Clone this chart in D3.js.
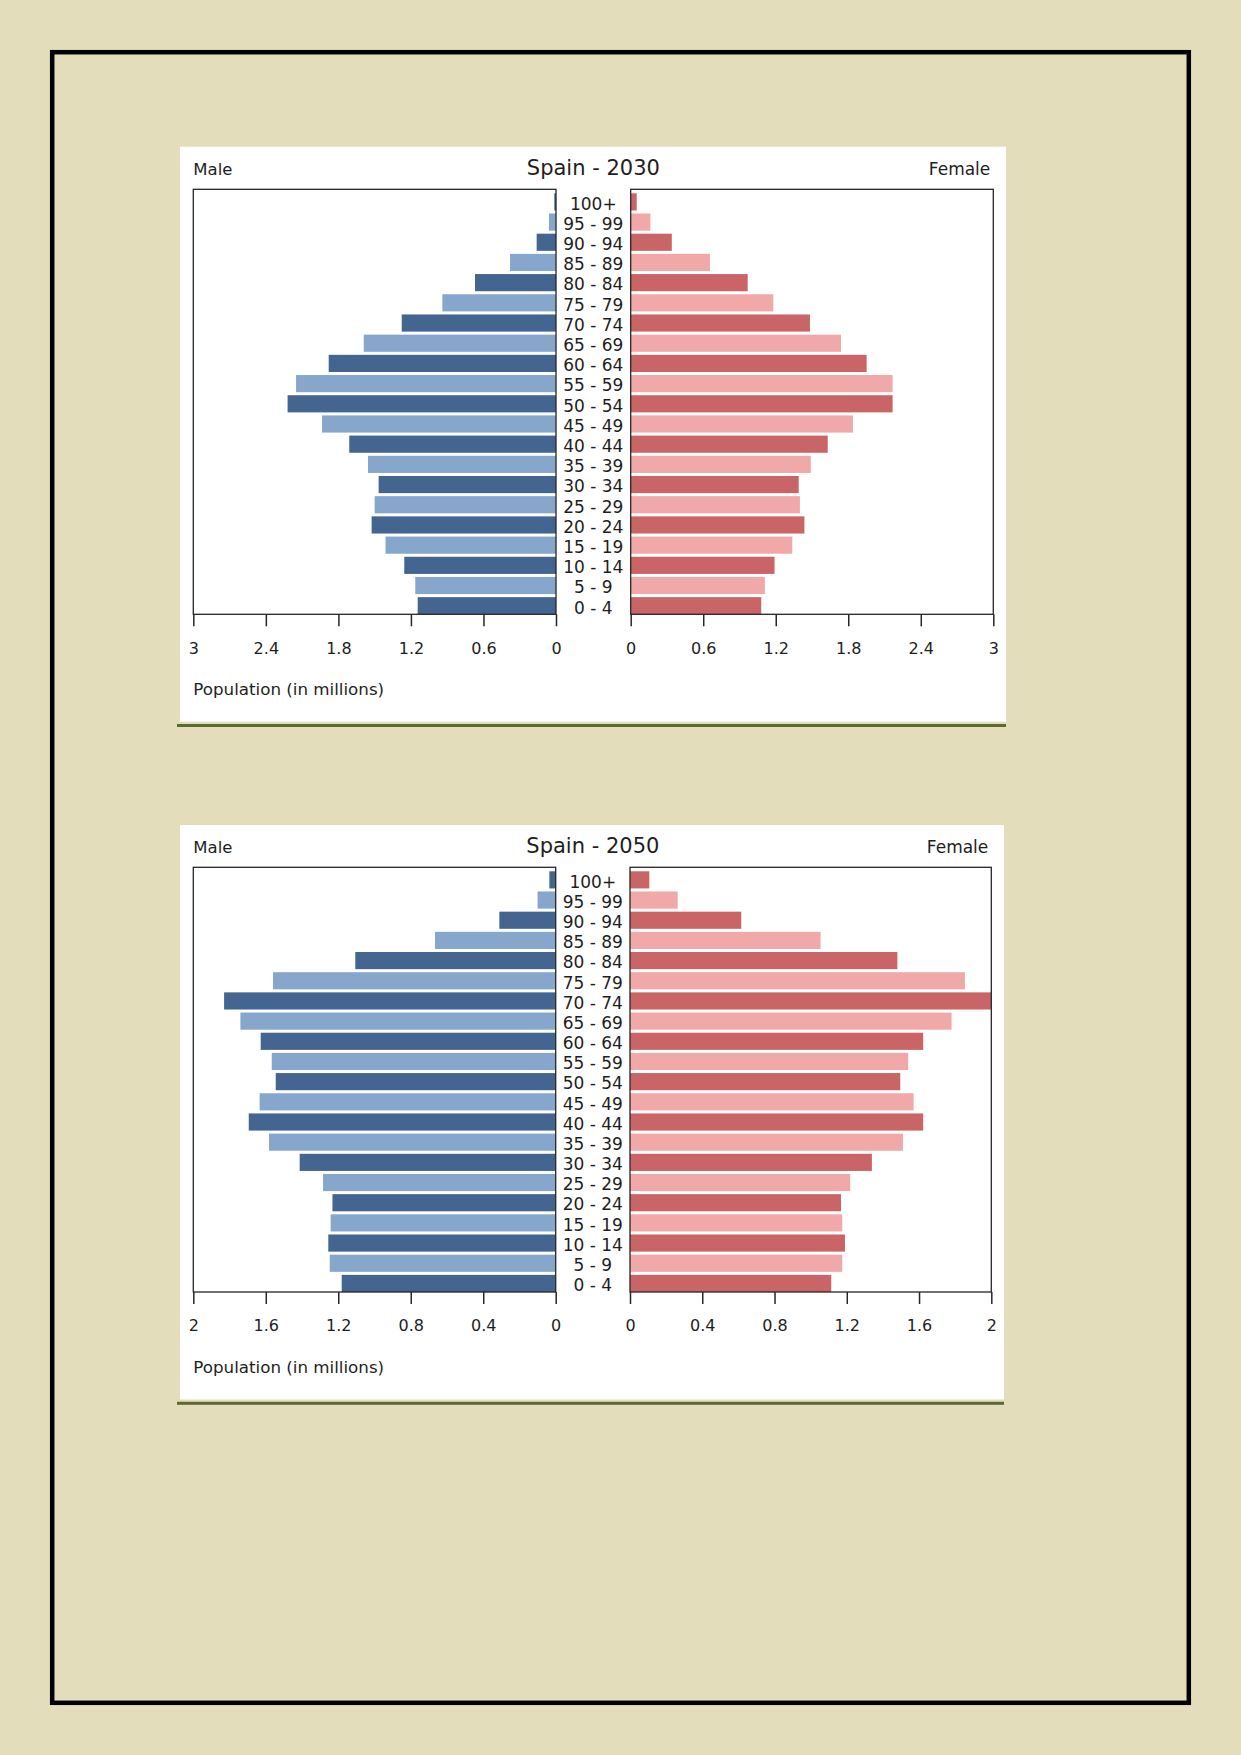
<!DOCTYPE html>
<html>
<head>
<meta charset="utf-8">
<script src="https://cdn.jsdelivr.net/npm/d3@7"></script>
<style>
	body { margin: 0; background: #e3ddbb; }
	svg { display: block; }
	text { font-family: "DejaVu Sans", Verdana, sans-serif; fill: #1e1e1e; }
</style>
</head>
<body>
<svg id="page" width="1241" height="1755"></svg>
<script>
var ageGroups = ["100+", "95 - 99", "90 - 94", "85 - 89", "80 - 84", "75 - 79", "70 - 74", "65 - 69", "60 - 64", "55 - 59", "50 - 54",
	"45 - 49", "40 - 44", "35 - 39", "30 - 34", "25 - 29", "20 - 24", "15 - 19", "10 - 14", "5 - 9", "0 - 4"];

// population in millions, top (100+) to bottom (0 - 4)
var male2030 = [0.014, 0.058, 0.16, 0.38, 0.67, 0.94, 1.276, 1.59, 1.88, 2.15, 2.22, 1.935, 1.71, 1.555, 1.467, 1.50, 1.525, 1.41, 1.255, 1.164, 1.144];
var female2030 = [0.05, 0.163, 0.34, 0.656, 0.968, 1.18, 1.483, 1.74, 1.952, 2.167, 2.167, 1.839, 1.63, 1.49, 1.39, 1.40, 1.437, 1.337, 1.19, 1.11, 1.08];
var male2050 = [0.035, 0.10, 0.311, 0.666, 1.106, 1.56, 1.83, 1.74, 1.628, 1.567, 1.545, 1.634, 1.694, 1.582, 1.413, 1.284, 1.232, 1.242, 1.255, 1.247, 1.181];
var female2050 = [0.107, 0.264, 0.616, 1.055, 1.48, 1.854, 2.0, 1.78, 1.623, 1.54, 1.496, 1.57, 1.623, 1.511, 1.339, 1.219, 1.168, 1.175, 1.19, 1.175, 1.114];

var ticks2030 = [0, 0.6, 1.2, 1.8, 2.4, 3];
var ticks2050 = [0, 0.4, 0.8, 1.2, 1.6, 2];

var PyramidView = {
	colors: {
		maleDark: "#436590",
		maleLight: "#86a6cb",
		femaleDark: "#c96567",
		femaleLight: "#f0a8a8",
		frame: "#262626",
		rule: "#5a6a32"
	},

	draw: function(svg, title, male, female, tickValues, layout) {
		var self = this;
		var max = tickValues[tickValues.length - 1];
		var fmt = d3.format("~g");

		var xMale = d3.scaleLinear().domain([0, max]).range([layout.maleZero, layout.maleLeft]);
		var xFemale = d3.scaleLinear().domain([0, max]).range([layout.femaleZero, layout.femaleRight]);
		var y = d3.scaleBand().domain(ageGroups)
			.range([layout.plotTop + 4, layout.plotBottom])
			.paddingInner(0.15)
			.paddingOuter(0);

		var g = svg.append("g").attr("class", "pyramid");

		// white panel and the olive rule under it
		g.append("rect")
			.attr("x", layout.panelLeft)
			.attr("y", layout.panelTop)
			.attr("width", layout.panelRight - layout.panelLeft)
			.attr("height", layout.panelBottom - layout.panelTop)
			.style("fill", "#fff");
		g.append("rect")
			.attr("x", layout.panelLeft - 3)
			.attr("y", layout.panelBottom + 2.3)
			.attr("width", layout.panelRight - layout.panelLeft + 3)
			.attr("height", 3)
			.style("fill", self.colors.rule);

		// bars
		g.selectAll(".male").data(male).enter().append("rect")
			.attr("class", "male")
			.attr("x", function(d) { return xMale(d); })
			.attr("y", function(d, i) { return y(ageGroups[i]); })
			.attr("width", function(d) { return xMale(0) - xMale(d); })
			.attr("height", y.bandwidth())
			.style("fill", function(d, i) { return i % 2 == 0 ? self.colors.maleDark : self.colors.maleLight; });
		g.selectAll(".female").data(female).enter().append("rect")
			.attr("class", "female")
			.attr("x", xFemale(0))
			.attr("y", function(d, i) { return y(ageGroups[i]); })
			.attr("width", function(d) { return xFemale(d) - xFemale(0); })
			.attr("height", y.bandwidth())
			.style("fill", function(d, i) { return i % 2 == 0 ? self.colors.femaleDark : self.colors.femaleLight; });

		// plot boxes
		[[layout.maleLeft, layout.maleZero], [layout.femaleZero, layout.femaleRight]].forEach(function(side) {
			g.append("rect")
				.attr("x", side[0])
				.attr("y", layout.plotTop)
				.attr("width", side[1] - side[0])
				.attr("height", layout.plotBottom - layout.plotTop)
				.style("fill", "none")
				.style("stroke", self.colors.frame)
				.style("stroke-width", 1.3);
		});

		// axes
		[xMale, xFemale].forEach(function(x) {
			var axis = g.append("g")
				.attr("transform", "translate(0," + layout.plotBottom + ")")
				.call(d3.axisBottom(x).tickValues(tickValues).tickFormat(fmt).tickSize(12).tickSizeOuter(0).tickPadding(16));
			axis.select(".domain").remove();
			axis.selectAll("line").style("stroke", self.colors.frame).style("stroke-width", 1.5);
			axis.selectAll("text")
				.style("font-size", "16px")
				.style("font-family", "DejaVu Sans")
				.style("fill", "#1e1e1e");
		});

		// age labels
		var mid = (layout.maleZero + layout.femaleZero) / 2;
		g.selectAll(".age").data(ageGroups).enter().append("text")
			.attr("class", "age")
			.attr("x", mid)
			.attr("y", function(d) { return y(d) + y.bandwidth() - 0.8; })
			.attr("font-size", 17)
			.style("text-anchor", "middle")
			.text(function(d) { return d; });

		// header texts
		var headY = layout.plotTop - 14;
		g.append("text")
			.attr("x", layout.maleLeft)
			.attr("y", headY)
			.attr("font-size", 16.5)
			.text("Male");
		g.append("text")
			.attr("x", mid)
			.attr("y", headY)
			.attr("font-size", 21)
			.style("text-anchor", "middle")
			.text(title);
		g.append("text")
			.attr("x", layout.femaleRight - 3)
			.attr("y", headY)
			.attr("font-size", 17)
			.style("text-anchor", "end")
			.text("Female");
		g.append("text")
			.attr("x", layout.maleLeft)
			.attr("y", layout.plotBottom + 80.5)
			.attr("font-size", 16.7)
			.text("Population (in millions)");
	}
};

var svg = d3.select("#page");

svg.append("rect")
	.attr("x", 52.2)
	.attr("y", 52.2)
	.attr("width", 1136.6)
	.attr("height", 1650.6)
	.style("fill", "none")
	.style("stroke", "#000")
	.style("stroke-width", 4.5);

PyramidView.draw(svg, "Spain - 2030", male2030, female2030, ticks2030, {
	panelLeft: 180, panelTop: 146.7, panelRight: 1006, panelBottom: 721.7,
	plotTop: 189.3, plotBottom: 614.3,
	maleLeft: 193.3, maleZero: 556, femaleZero: 630.7, femaleRight: 993.3
});

PyramidView.draw(svg, "Spain - 2050", male2050, female2050, ticks2050, {
	panelLeft: 180, panelTop: 825, panelRight: 1004, panelBottom: 1399.5,
	plotTop: 867.3, plotBottom: 1292,
	maleLeft: 193.3, maleZero: 555.7, femaleZero: 630, femaleRight: 991.3
});
</script>
</body>
</html>
